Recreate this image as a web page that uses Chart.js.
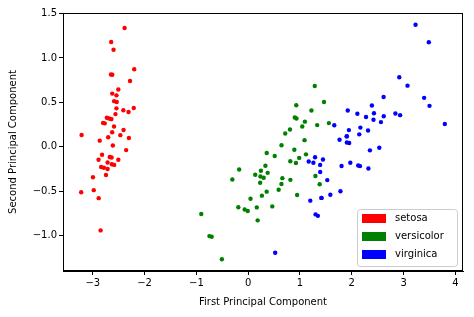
<!DOCTYPE html>
<html>
<head>
<meta charset="utf-8">
<script src="https://cdn.jsdelivr.net/npm/chart.js@4"></script>
<style>
html,body{margin:0;padding:0;background:#fff;}
#wrap{width:474px;height:317px;position:relative;}
</style>
</head>
<body>
<div id="wrap"><canvas id="c"></canvas></div>
<script>
const categories = ['setosa', 'versicolor', 'virginica'];
const colors = ['#ff0000', '#008000', '#0000ff'];
const xTicks = [-3, -2, -1, 0, 1, 2, 3, 4];
const yTicks = [-1.0, -0.5, 0.0, 0.5, 1.0, 1.5];

const setosaX = [-2.684,-2.714,-2.889,-2.745,-2.729,-2.281,-2.821,-2.626,-2.886,-2.673,-2.507,-2.613,-2.786,-3.224,-2.645,-2.386,-2.624,-2.648,-2.200,-2.588,-2.310,-2.544,-3.216,-2.303,-2.356,-2.507,-2.469,-2.562,-2.640,-2.632,-2.587,-2.410,-2.649,-2.599,-2.637,-2.866,-2.625,-2.801,-2.981,-2.590,-2.770,-2.849,-2.997,-2.406,-2.209,-2.714,-2.538,-2.839,-2.543,-2.703];
const setosaY = [0.319,-0.177,-0.145,-0.318,0.327,0.741,-0.089,0.163,-0.578,-0.114,0.645,0.015,-0.235,-0.511,1.179,1.338,0.811,0.312,0.873,0.514,0.391,0.433,0.133,0.099,-0.037,-0.146,0.131,0.368,0.312,-0.197,-0.204,0.411,0.813,1.093,-0.121,0.069,0.599,0.269,-0.488,0.229,0.264,-0.941,-0.342,0.189,0.437,-0.250,0.504,-0.228,0.579,0.108];
const versicolorX = [1.285,0.932,1.464,0.183,1.088,0.642,1.095,-0.749,1.044,-0.009,-0.508,0.512,0.265,0.985,-0.174,0.928,0.660,0.236,0.945,0.045,1.116,0.358,1.298,0.922,0.715,0.900,1.332,1.558,0.813,-0.306,-0.068,-0.190,0.136,1.380,0.588,0.807,1.221,0.815,0.246,0.166,0.465,0.891,0.231,-0.705,0.357,0.332,0.376,0.643,-0.906,0.299];
const versicolorY = [0.685,0.318,0.504,-0.828,0.075,-0.418,0.283,-1.005,0.228,-0.723,-1.266,-0.104,-0.550,-0.125,-0.255,0.467,-0.353,-0.334,-0.543,-0.584,-0.085,-0.069,-0.328,-0.183,0.149,0.329,0.244,0.267,-0.163,-0.368,-0.705,-0.680,-0.314,-0.421,-0.484,0.194,0.408,-0.372,-0.269,-0.682,-0.671,-0.034,-0.404,-1.012,-0.505,-0.213,-0.293,0.018,-0.756,-0.349];
const virginicaX = [2.531,1.415,2.617,1.972,2.350,3.397,0.521,2.933,2.321,2.917,1.662,1.803,2.166,1.346,1.586,1.904,1.950,3.487,3.796,1.301,2.428,1.199,3.500,1.389,2.275,2.614,1.259,1.291,2.124,2.388,2.842,3.231,2.159,1.444,1.781,3.076,2.144,1.905,1.169,2.108,2.314,1.922,1.415,2.563,2.419,1.944,1.527,1.764,1.901,1.390];
const virginicaY = [-0.010,-0.575,0.344,-0.180,-0.040,0.551,-1.193,0.356,-0.244,0.783,0.242,-0.216,0.216,-0.777,-0.540,0.119,0.042,1.176,0.257,-0.761,0.378,-0.606,0.461,-0.204,0.335,0.561,-0.180,-0.117,-0.210,0.465,0.375,1.374,-0.217,-0.143,-0.500,0.688,0.140,0.049,-0.165,0.372,0.184,0.409,-0.575,0.278,0.305,0.188,-0.375,0.079,0.117,-0.283];

const seriesX = [setosaX, versicolorX, virginicaX];
const seriesY = [setosaY, versicolorY, virginicaY];

const FONT = 'DejaVu Sans';
const fmtNum = (v, d) => { const s = Math.abs(v).toFixed(d); return (v < 0 ? '\u2212' : '') + s; };

const framePlugin = {
  id: 'frame',
  afterDatasetsDraw(chart) {
    const {ctx, chartArea: a} = chart;
    ctx.save();
    ctx.strokeStyle = '#000';
    ctx.lineWidth = 1;
    ctx.strokeRect(Math.round(a.left) + 0.5, Math.round(a.top) + 0.5, Math.round(a.right - a.left) - 1, Math.round(a.bottom - a.top) - 1);
    ctx.restore();
  },
  afterDraw(chart) {
    const {ctx, chartArea: a} = chart;
    const ds = chart.data.datasets;
    const w = 100, h = 57;
    const x0 = a.right - 6 - w, y0 = a.bottom - 5 - h;
    ctx.save();
    ctx.beginPath();
    if (ctx.roundRect) ctx.roundRect(x0 + 0.5, y0 + 0.5, w, h, 3); else ctx.rect(x0 + 0.5, y0 + 0.5, w, h);
    ctx.fillStyle = 'rgba(255,255,255,0.85)';
    ctx.fill();
    ctx.strokeStyle = '#cccccc';
    ctx.lineWidth = 1;
    ctx.stroke();
    ctx.font = '10px "' + FONT + '"';
    ctx.textBaseline = 'middle';
    ctx.textAlign = 'left';
    ds.forEach((d, i) => {
      const cy = y0 + 9.5 + i * 18;
      ctx.fillStyle = d.backgroundColor;
      ctx.fillRect(x0 + 5, cy - 4.5, 24, 9);
      ctx.fillStyle = '#000';
      ctx.fillText(d.label, x0 + 38, cy);
    });
    ctx.restore();
  }
};

new Chart(document.getElementById('c'), {
  type: 'scatter',
  data: {
    datasets: categories.map((name, i) => ({
      label: name,
      data: seriesX[i].map((x, j) => ({x: x, y: seriesY[i][j]})),
      backgroundColor: colors[i],
      borderWidth: 0,
      pointRadius: 2.2,
      pointHoverRadius: 2.2
    }))
  },
  options: {
    responsive: true,
    maintainAspectRatio: false,
    animation: false,
    events: [],
    layout: {padding: {left: 0, right: 11, top: 13, bottom: 0}},
    plugins: {legend: {display: false}, tooltip: {enabled: false}},
    scales: {
      x: {
        type: 'linear',
        min: -3.575, max: 4.147,
        afterFit: s => { s.height = 46; },
        afterBuildTicks: s => { s.ticks = xTicks.map(v => ({value: v})); },
        grid: {display: true, drawOnChartArea: false, drawTicks: true, tickLength: 4, color: '#000'},
        border: {display: true, color: '#000', width: 1},
        ticks: {color: '#000', padding: 2, maxRotation: 0, font: {family: FONT, size: 10}, callback: v => fmtNum(v, 0)},
        title: {display: true, text: 'First Principal Component', color: '#000', font: {family: FONT, size: 10}, padding: {top: 0, bottom: 9}}
      },
      y: {
        type: 'linear',
        min: -1.398, max: 1.506,
        afterFit: s => { s.width = 63; },
        afterBuildTicks: s => { s.ticks = yTicks.map(v => ({value: v})); },
        grid: {display: true, drawOnChartArea: false, drawTicks: true, tickLength: 4, color: '#000'},
        border: {display: true, color: '#000', width: 1},
        ticks: {color: '#000', padding: 2, font: {family: FONT, size: 10}, callback: v => fmtNum(v, 1)},
        title: {display: true, text: 'Second Principal Component', color: '#000', font: {family: FONT, size: 10}, padding: {top: 7, bottom: 0}}
      }
    }
  },
  plugins: [framePlugin]
});
</script>
</body>
</html>
